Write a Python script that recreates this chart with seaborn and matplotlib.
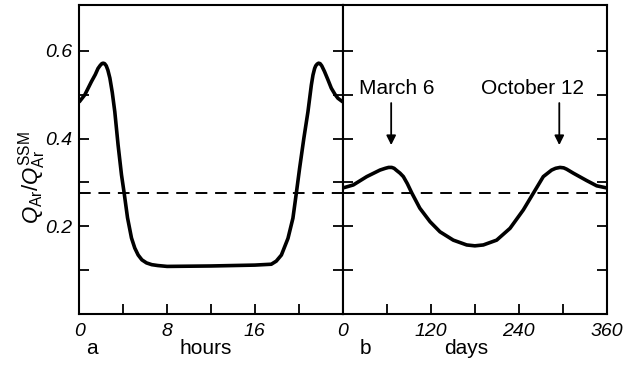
import matplotlib
matplotlib.use("Agg")
import matplotlib.pyplot as plt
import seaborn as sns

# Diurnal variation (panel a): hour of day vs. Q_Ar / Q_Ar^SSM
hours = [0, 0.5, 1.1, 1.45, 1.7, 1.9, 2.05, 2.17, 2.3, 2.45, 2.6, 2.78, 3.0,
         3.23, 3.53, 3.84, 4.08, 4.39, 4.75, 5.05, 5.36, 5.7, 6.12, 6.6, 7.15,
         8, 12, 16, 17.5, 17.95, 18.42, 19.02, 19.47, 19.78, 20.08, 20.47,
         20.84, 21.15, 21.3, 21.45, 21.55, 21.68, 21.81, 21.95, 22.1, 22.35,
         22.65, 22.97, 23.3, 23.57, 24]
q_hours = [0.484, 0.500, 0.530, 0.546, 0.560, 0.567, 0.571, 0.572, 0.571, 0.566,
           0.556, 0.538, 0.505, 0.461, 0.385, 0.317, 0.276, 0.219, 0.173, 0.150,
           0.134, 0.123, 0.116, 0.112, 0.110, 0.108, 0.109, 0.111, 0.113, 0.120,
           0.134, 0.172, 0.218, 0.275, 0.332, 0.401, 0.461, 0.522, 0.545, 0.560,
           0.566, 0.570, 0.572, 0.571, 0.566, 0.553, 0.535, 0.515, 0.501, 0.492,
           0.484]

# Seasonal variation (panel b): day of year vs. Q_Ar / Q_Ar^SSM
days = [0, 14.4, 32.7, 50.8, 58, 62.5, 66.7, 70, 73.5, 78, 82.6, 88, 94, 105,
        119, 132.5, 150.6, 168.9, 180, 191.5, 209.7, 227.9, 246, 259.6, 273.2,
        284.6, 290, 296, 301, 305, 314, 332.3, 346, 360]
q_days = [0.287, 0.294, 0.313, 0.328, 0.332, 0.334, 0.334, 0.332, 0.327, 0.321,
          0.313, 0.297, 0.276, 0.241, 0.210, 0.187, 0.168, 0.157, 0.155, 0.157,
          0.168, 0.195, 0.237, 0.275, 0.313, 0.328, 0.332, 0.334, 0.333, 0.330,
          0.321, 0.304, 0.292, 0.287]

q_mean = 0.275  # time-averaged level (dashed)

hour_ticks = [0, 4, 8, 12, 16, 20, 24]
hour_labels = ["0", "", "8", "", "16", "", ""]
day_ticks = [0, 60, 120, 180, 240, 300, 360]
day_labels = ["0", "", "120", "", "240", "", "360"]
y_ticks = [0.1, 0.2, 0.3, 0.4, 0.5, 0.6]
y_labels = ["", "0.2", "", "0.4", "", "0.6"]

events = ["March 6", "October 12"]
event_days = [66, 295]
event_text_days = [74, 258]

sns.set_style("ticks")
plt.rcParams["font.family"] = ["Liberation Sans", "DejaVu Sans"]
plt.rcParams["mathtext.fontset"] = "custom"
plt.rcParams["mathtext.rm"] = "Liberation Sans"
plt.rcParams["mathtext.it"] = "Liberation Sans:italic"
plt.rcParams["text.color"] = "black"
plt.rcParams["axes.labelcolor"] = "black"

fig = plt.figure(figsize=(6.3, 3.65), dpi=100)
axA = fig.add_axes([0.126, 0.1405, 0.4178, 0.846])
axB = fig.add_axes([0.544, 0.1405, 0.4195, 0.846])

line_kw = dict(color="black", lw=2.6, sort=False,
               solid_joinstyle="round", solid_capstyle="round")
sns.lineplot(x=hours, y=q_hours, ax=axA, **line_kw)
sns.lineplot(x=days, y=q_days, ax=axB, **line_kw)

for ax in (axA, axB):
    ax.axhline(q_mean, color="black", lw=1.4, dashes=(6, 4))
    ax.set_ylim(0, 0.705)
    ax.set_yticks(y_ticks, y_labels, fontstyle="italic", fontsize=14)
    ax.tick_params(axis="both", direction="in", length=7, width=1.3,
                   left=True, right=True, top=False, bottom=True,
                   labelsize=14, color="black", labelcolor="black")
    ax.tick_params(axis="y", pad=5)
    ax.tick_params(axis="x", pad=7)
    for s in ax.spines.values():
        s.set_linewidth(1.5)
        s.set_color("black")
    ax.set_xlabel("")
    ax.set_ylabel("")

axA.set_xlim(0, 24)
axA.set_xticks(hour_ticks, hour_labels, fontstyle="italic", fontsize=14)
axB.set_xlim(0, 360)
axB.set_xticks(day_ticks, day_labels, fontstyle="italic", fontsize=14)
axB.tick_params(axis="y", labelleft=False)

for name, d, td in zip(events, event_days, event_text_days):
    axB.annotate("", xy=(d, 0.385), xytext=(d, 0.481),
                 arrowprops=dict(arrowstyle="-|>", color="black", lw=1.3,
                                 mutation_scale=14, shrinkA=0, shrinkB=0))
    axB.text(td, 0.515, name, ha="center", va="center", fontsize=15,
             color="black")

label_y = 1 - 349 / 365
fig.text(92 / 630, label_y, "a", ha="center", va="center", fontsize=15)
fig.text(206 / 630, label_y, "hours", ha="center", va="center", fontsize=15)
fig.text(365.5 / 630, label_y, "b", ha="center", va="center", fontsize=15)
fig.text(466 / 630, label_y, "days", ha="center", va="center", fontsize=15)

fig.text(32 / 630, 1 - 178 / 365,
         r"$Q_{\mathrm{Ar}}/Q_{\mathrm{Ar}}^{\mathrm{SSM}}$",
         rotation=90, ha="center", va="center", fontsize=16)

fig.savefig("out.png", dpi=100, facecolor="white")
